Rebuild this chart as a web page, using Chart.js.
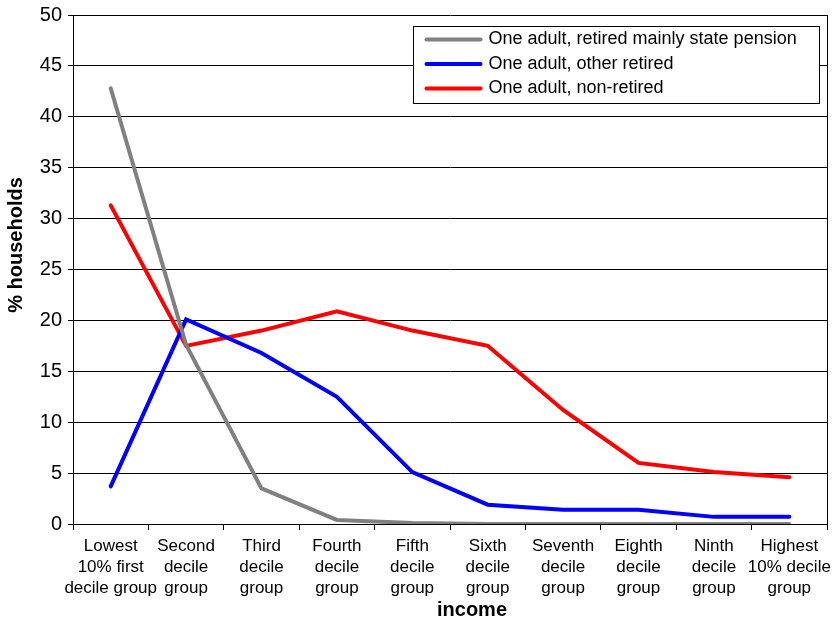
<!DOCTYPE html>
<html>
<head>
<meta charset="utf-8">
<script src="https://cdn.jsdelivr.net/npm/chart.js@4"></script>
<style>
  html, body { margin: 0; padding: 0; background: #fff; }
  #wrap { width: 837px; height: 622px; }
</style>
</head>
<body>
<div id="wrap"><canvas id="chart" width="837" height="622"></canvas></div>
<script>
const categories = [
    ['Lowest', '10% first', 'decile group'],
    ['Second', 'decile', 'group'],
    ['Third', 'decile', 'group'],
    ['Fourth', 'decile', 'group'],
    ['Fifth', 'decile', 'group'],
    ['Sixth', 'decile', 'group'],
    ['Seventh', 'decile', 'group'],
    ['Eighth', 'decile', 'group'],
    ['Ninth', 'decile', 'group'],
    ['Highest', '10% decile', 'group']
];
const seriesNames = ['One adult, retired mainly state pension', 'One adult, other retired', 'One adult, non-retired'];
const statePension = [42.8, 17.6, 3.5, 0.4, 0.1, 0, 0, 0, 0, 0];
const otherRetired = [3.7, 20.1, 16.8, 12.5, 5.1, 1.9, 1.4, 1.4, 0.7, 0.7];
const nonRetired = [31.3, 17.5, 19.0, 20.9, 19.0, 17.5, 11.2, 6.0, 5.1, 4.6];
const yTicks = [0, 5, 10, 15, 20, 25, 30, 35, 40, 45, 50];
const xTitle = 'income';
const yTitle = '% households';

const FONT = '"Liberation Sans", Arial, sans-serif';

// right border, axis titles and the legend box inside the plot
const framePlugin = {
    id: 'frame',
    afterDraw(chart) {
        const { ctx, chartArea } = chart;
        ctx.save();
        ctx.strokeStyle = '#000';
        ctx.lineWidth = 1;
        ctx.beginPath();
        ctx.moveTo(chartArea.right + 0.5, chartArea.top);
        ctx.lineTo(chartArea.right + 0.5, chartArea.bottom);
        ctx.stroke();

        // axis titles (the original sits a bit off-centre)
        ctx.fillStyle = '#000';
        ctx.font = 'bold 20px ' + FONT;
        ctx.textAlign = 'center';
        ctx.textBaseline = 'middle';
        ctx.fillText(xTitle, 472, 610);
        ctx.save();
        ctx.translate(16, 245);
        ctx.rotate(-Math.PI / 2);
        ctx.fillText(yTitle, 0, 0);
        ctx.restore();

        // legend
        const x = 413.5, y = 26.5, w = 406, h = 77;
        ctx.fillStyle = '#fff';
        ctx.fillRect(x, y, w, h);
        ctx.strokeStyle = '#000';
        ctx.lineWidth = 1;
        ctx.strokeRect(x, y, w, h);
        ctx.font = '18px ' + FONT;
        ctx.textAlign = 'left';
        ctx.textBaseline = 'middle';
        ctx.lineCap = 'round';
        chart.data.datasets.forEach((ds, i) => {
            const cy = y + 13 + i * 24.5;
            ctx.strokeStyle = ds.borderColor;
            ctx.lineWidth = 4;
            ctx.beginPath();
            ctx.moveTo(x + 13, cy);
            ctx.lineTo(x + 67, cy);
            ctx.stroke();
            ctx.fillStyle = '#000';
            ctx.fillText(ds.label, x + 75, cy);
        });
        ctx.restore();
    }
};

const lineStyle = { fill: false, pointRadius: 0, pointHoverRadius: 0, borderWidth: 4, tension: 0, borderCapStyle: 'round', borderJoinStyle: 'miter' };

new Chart(document.getElementById('chart').getContext('2d'), {
    type: 'line',
    data: {
        labels: categories,
        datasets: [
            { label: seriesNames[0], data: statePension, borderColor: '#808080', ...lineStyle },
            { label: seriesNames[1], data: otherRetired, borderColor: '#0000ff', ...lineStyle },
            { label: seriesNames[2], data: nonRetired, borderColor: '#ff0000', ...lineStyle }
        ]
    },
    options: {
        responsive: false,
        animation: false,
        layout: { padding: { top: 15, right: 10, left: 0, bottom: 0 } },
        plugins: {
            legend: { display: false },
            title: { display: false },
            tooltip: { enabled: false }
        },
        scales: {
            x: {
                offset: true,
                grid: { display: true, drawOnChartArea: false, offset: true, color: '#000', tickLength: 6 },
                border: { color: '#000', width: 1 },
                ticks: { color: '#000', font: { family: FONT, size: 17, lineHeight: '21px' }, maxRotation: 0, autoSkip: false, padding: 6 },
                afterFit(scale) { scale.height = 98; scale.paddingLeft = 0; scale.paddingRight = 0; }
            },
            y: {
                min: 0,
                max: 50,
                afterBuildTicks(scale) { scale.ticks = yTicks.map(v => ({ value: v })); },
                grid: { color: '#000', lineWidth: 1, tickLength: 5 },
                border: { color: '#000', width: 1 },
                ticks: { color: '#000', font: { family: FONT, size: 20 }, padding: 6 },
                afterFit(scale) { scale.width = 73; scale.paddingTop = 0; scale.paddingBottom = 0; }
            }
        }
    },
    plugins: [framePlugin]
});
</script>
</body>
</html>
